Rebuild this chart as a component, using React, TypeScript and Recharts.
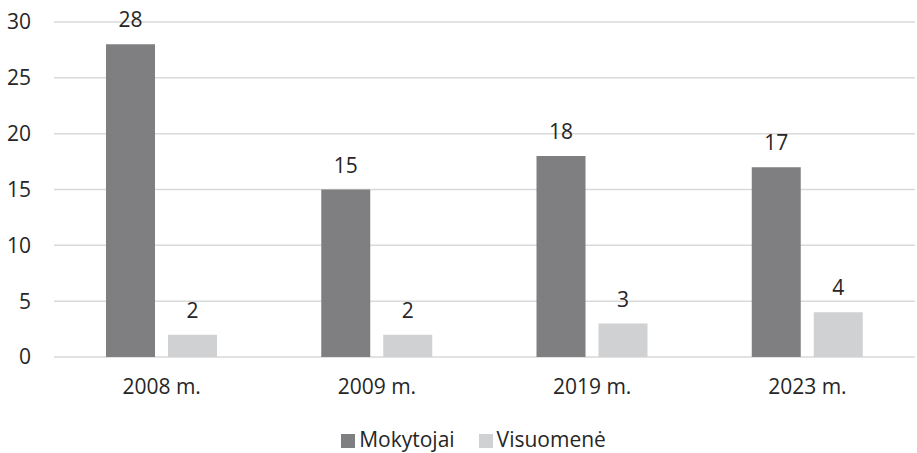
import React from 'react';
import { BarChart, Bar, XAxis, YAxis, CartesianGrid, Legend, LabelList } from 'recharts';

const categories = ['2008 m.', '2009 m.', '2019 m.', '2023 m.'];
const mokytojai = [28, 15, 18, 17];
const visuomene = [2, 2, 3, 4];
const yTicks = [0, 5, 10, 15, 20, 25, 30];

const data = categories.map((c, i) => ({ name: c, Mokytojai: mokytojai[i], 'Visuomenė': visuomene[i] }));

const FONT = '"Open Sans", sans-serif';
const TXT = '#262626';

export default function App() {
  return (
    <div style={{ position: 'absolute', left: 0, top: 0, fontFamily: FONT }}>
      <BarChart width={917} height={453} data={data} margin={{ top: 22, right: 2, left: 0, bottom: 0 }} barGap={13} barSize={49}>
        <CartesianGrid vertical={false} stroke="#d9d9d9" strokeWidth={1.5} />
        <XAxis dataKey="name" axisLine={false} tickLine={false} height={56} tickMargin={16}
          tick={{ fill: TXT, fontSize: 21, fontFamily: FONT }} />
        <YAxis domain={[0, 30]} ticks={yTicks} axisLine={false} tickLine={false} width={54} tickMargin={17}
          tick={{ fill: TXT, fontSize: 21, fontFamily: FONT }} />
        <Legend verticalAlign="bottom" height={40} iconType="square" iconSize={14}
          wrapperStyle={{ fontFamily: FONT, fontSize: 21, top: 425, paddingLeft: 21 }}
          formatter={(v: string, _e: any, i: number) => <span style={{ color: TXT, marginRight: i === 0 ? 14 : 0 }}>{v}</span>} />
        <Bar dataKey="Mokytojai" fill="#7f7f82" isAnimationActive={false}>
          <LabelList dataKey="Mokytojai" position="top" offset={17} fill={TXT} fontSize={21} fontFamily={FONT} />
        </Bar>
        <Bar dataKey="Visuomenė" fill="#d0d1d3" isAnimationActive={false}>
          <LabelList dataKey="Visuomenė" position="top" offset={17} fill={TXT} fontSize={21} fontFamily={FONT} />
        </Bar>
      </BarChart>
    </div>
  );
}
